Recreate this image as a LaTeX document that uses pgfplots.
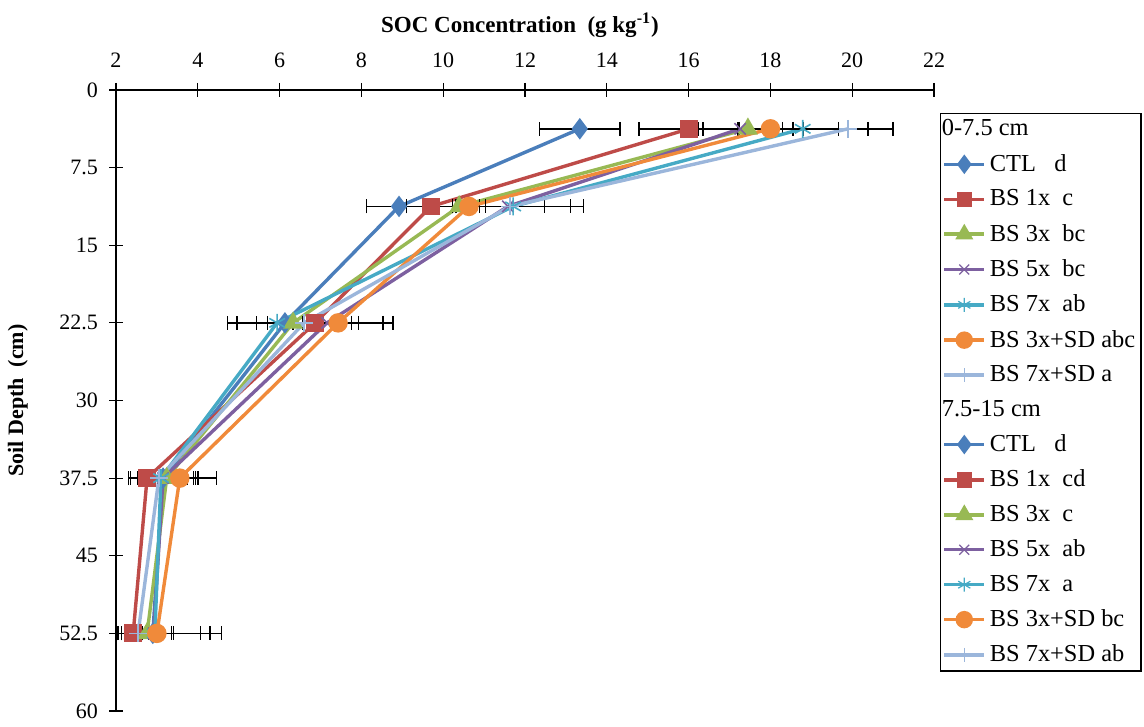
\documentclass[border=0pt]{standalone}
\usepackage{pgfplots}
\pgfplotsset{compat=1.18}
\usepackage{fontspec}
\setmainfont{Liberation Serif}
\definecolor{cA}{HTML}{4A7EBB}
\definecolor{cB}{HTML}{BE4B48}
\definecolor{cC}{HTML}{98B954}
\definecolor{cD}{HTML}{7D60A0}
\definecolor{cE}{HTML}{46AAC5}
\definecolor{cF}{HTML}{F08A3A}
\definecolor{cG}{HTML}{9BB6DB}
\begin{document}
\begin{tikzpicture}
\useasboundingbox (0,0) rectangle (572pt,363.5pt);
\node[font=\fontsize{11.5}{13}\selectfont\bfseries] at (260pt,351pt) {SOC Concentration\ \ (g kg\textsuperscript{-1})};
\begin{axis}[
  at={(58pt,318.5pt)}, anchor=north west,
  scale only axis, width=409pt, height=310.5pt,
  xmin=2, xmax=22, ymin=0, ymax=60, y dir=reverse,
  axis x line=top, axis y line=left,
  axis line style={-, black, line width=0.8pt},
  xtick={2,4,...,22}, ytick={0,7.5,15,22.5,30,37.5,45,52.5,60},
  yticklabels={0,7.5,15,22.5,30,37.5,45,52.5,60},
  x tick style={black, line width=0.6pt}, y tick style={black, line width=0.6pt},
  tick align=center, major tick length=7pt,
  xtick pos=right, ytick pos=left,
  /pgf/number format/assume math mode=true,
  tick label style={font=\fontsize{11}{13}\selectfont},
  xticklabel style={yshift=4pt},
  yticklabel style={xshift=-2pt},
  ylabel={\bfseries Soil Depth\ \ (cm)},
  ylabel style={font=\fontsize{11}{13}\selectfont, yshift=9pt},
  clip=true,
  legend style={at={(1.0073,0.963)}, anchor=north west, draw=black, line width=0.7pt,
     font=\fontsize{12.2}{14}\selectfont, row sep=3.7pt, inner xsep=1pt, inner ysep=1pt,
     legend cell align=left},
  legend image code/.code={\draw[mark repeat=2,mark phase=2,#1] plot coordinates {(0cm,0cm) (0.35cm,0cm) (0.7cm,0cm)};},
  every axis plot/.append style={line width=1.7pt},
  error bars/error bar style={black, line width=0.7pt},
  error bars/error mark options={rotate=90, mark size=3.5pt, black, line width=0.7pt},
]
% CTL
\addplot+[forget plot, color=cA, mark=diamond*, mark size=4pt, mark options={fill=cA}, error bars/.cd, x dir=both, x explicit]
 coordinates {(13.34,3.75) +- (0.98,0) (8.92,11.25) +- (0.8,0) (6.13,22.5) +- (0.7,0) (3.15,37.5) +- (0.6,0) (2.9,52.5) +- (0.5,0)};
% BS 1x
\addplot+[forget plot, color=cB, mark=square*, mark size=3.6pt, mark options={fill=cB}, error bars/.cd, x dir=both, x explicit]
 coordinates {(16.01,3.75) +- (1.22,0) (9.70,11.25) +- (0.6,0) (6.87,22.5) +- (1.9,0) (2.76,37.5) +- (0.4,0) (2.42,52.5) +- (0.37,0)};
% BS 3x
\addplot+[forget plot, color=cC, mark=triangle*, mark size=4pt, mark options={fill=cC}, error bars/.cd, x dir=both, x explicit]
 coordinates {(17.45,3.75) +- (1.1,0) (10.39,11.25) +- (0.5,0) (6.33,22.5) +- (1.6,0) (3.24,37.5) +- (0.7,0) (2.76,52.5) +- (1.3,0)};
% BS 5x
\addplot+[forget plot, color=cD, mark=x, mark size=4pt, mark options={line width=0.8pt}, error bars/.cd, x dir=both, x explicit]
 coordinates {(17.26,3.75) +- (1.03,0) (11.58,11.25) +- (0.9,0) (7.16,22.5) +- (0.6,0) (3.15,37.5) +- (0.85,0) (2.92,52.5) +- (1.38,0)};
% BS 7x
\addplot+[forget plot, color=cE, mark=asterisk, mark size=4.5pt, mark options={line width=0.8pt}, error bars/.cd, x dir=both, x explicit]
 coordinates {(18.79,3.75) +- (1.6,0) (11.71,11.25) +- (1.4,0) (5.94,22.5) +- (1.0,0) (3.1,37.5) +- (0.8,0) (2.95,52.5) +- (1.63,0)};
% BS 3x+SD
\addplot+[forget plot, color=cF, mark=*, mark size=4pt, mark options={fill=cF}, error bars/.cd, x dir=both, x explicit]
 coordinates {(18.0,3.75) +- (1.66,0) (10.63,11.25) +- (0.4,0) (7.43,22.5) +- (1.1,0) (3.56,37.5) +- (0.9,0) (3.0,52.5) +- (0.35,0)};
% BS 7x+SD
\addplot+[forget plot, color=cG, mark=+, mark size=4.5pt, mark options={line width=0.8pt}, error bars/.cd, x dir=both, x explicit]
 coordinates {(19.9,3.75) +- (1.1,0) (11.63,11.25) +- (1.8,0) (6.6,22.5) +- (0.9,0) (3.05,37.5) +- (0.5,0) (2.54,52.5) +- (0.4,0)};

\addlegendimage{empty legend}\addlegendentry{\hspace*{-24pt}0-7.5 cm}
\addlegendimage{color=cA, line width=1.7pt, mark=diamond*, mark size=3.5pt, mark options={fill=cA}}\addlegendentry{CTL\ \ \ d}
\addlegendimage{color=cB, line width=1.7pt, mark=square*, mark size=3pt, mark options={fill=cB}}\addlegendentry{BS 1x\ \ c}
\addlegendimage{color=cC, line width=1.7pt, mark=triangle*, mark size=3.5pt, mark options={fill=cC}}\addlegendentry{BS 3x\ \ bc}
\addlegendimage{color=cD, line width=1.7pt, mark=x, mark size=3.5pt, mark options={line width=0.6pt}}\addlegendentry{BS 5x\ \ bc}
\addlegendimage{color=cE, line width=1.7pt, mark=asterisk, mark size=3.5pt, mark options={line width=0.6pt}}\addlegendentry{BS 7x\ \ ab}
\addlegendimage{color=cF, line width=1.7pt, mark=*, mark size=3.5pt, mark options={fill=cF}}\addlegendentry{BS 3x+SD abc}
\addlegendimage{color=cG, line width=1.7pt, mark=+, mark size=3.5pt, mark options={line width=0.6pt}}\addlegendentry{BS 7x+SD a}
\addlegendimage{empty legend}\addlegendentry{\hspace*{-24pt}7.5-15 cm}
\addlegendimage{color=cA, line width=1.7pt, mark=diamond*, mark size=3.5pt, mark options={fill=cA}}\addlegendentry{CTL\ \ \ d}
\addlegendimage{color=cB, line width=1.7pt, mark=square*, mark size=3pt, mark options={fill=cB}}\addlegendentry{BS 1x\ \ cd}
\addlegendimage{color=cC, line width=1.7pt, mark=triangle*, mark size=3.5pt, mark options={fill=cC}}\addlegendentry{BS 3x\ \ c}
\addlegendimage{color=cD, line width=1.7pt, mark=x, mark size=3.5pt, mark options={line width=0.6pt}}\addlegendentry{BS 5x\ \ ab}
\addlegendimage{color=cE, line width=1.7pt, mark=asterisk, mark size=3.5pt, mark options={line width=0.6pt}}\addlegendentry{BS 7x\ \ a}
\addlegendimage{color=cF, line width=1.7pt, mark=*, mark size=3.5pt, mark options={fill=cF}}\addlegendentry{BS 3x+SD bc}
\addlegendimage{color=cG, line width=1.7pt, mark=+, mark size=3.5pt, mark options={line width=0.6pt}}\addlegendentry{BS 7x+SD ab}
\end{axis}
\end{tikzpicture}
\end{document}
